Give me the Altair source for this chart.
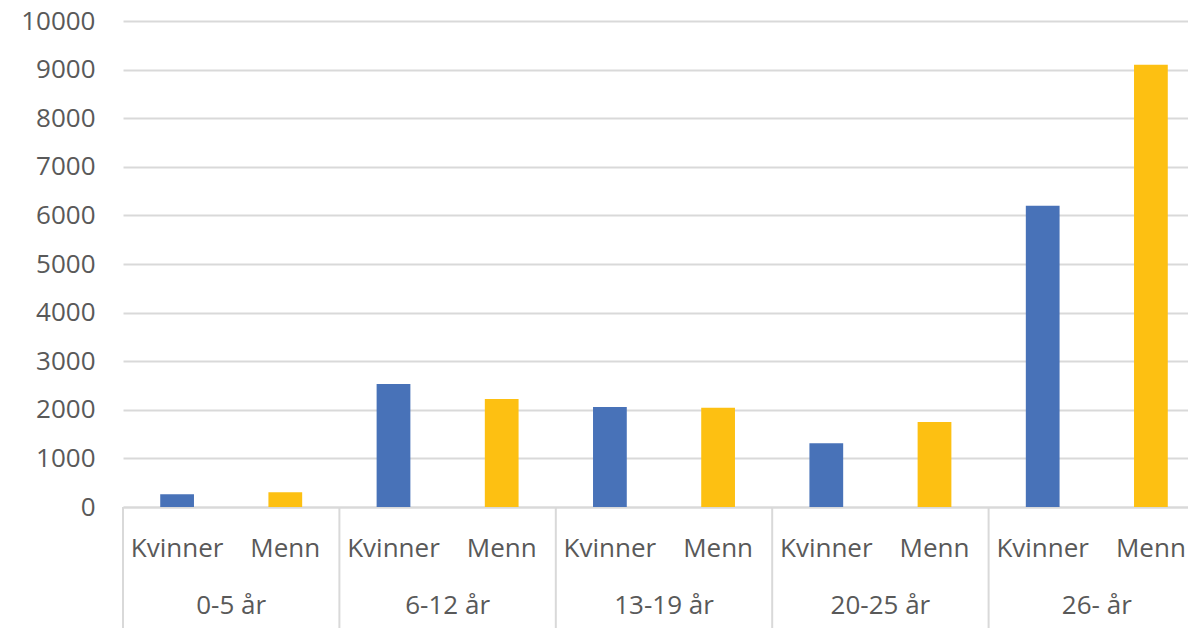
import altair as alt
import pandas as pd

groups = ["0-5 år", "6-12 år", "13-19 år", "20-25 år", "26- år"]
sexes = ["Kvinner", "Menn"]
kvinner = [260, 2530, 2060, 1310, 6200]
menn = [305, 2220, 2040, 1750, 9100]
y_ticks = list(range(0, 10001, 1000))

rows = []
for g, k, m in zip(groups, kvinner, menn):
    rows.append({"group": g, "sex": "Kvinner", "key": f"{g}|Kvinner", "value": k})
    rows.append({"group": g, "sex": "Menn", "key": f"{g}|Menn", "value": m})
df = pd.DataFrame(rows)
keys = list(df["key"])
gdf = pd.DataFrame({"group": groups})

W, H = 1082, 486
FONT = "Open Sans"
TXT = "#595959"
GRID = "#d9d9d9"

bars = alt.Chart(df).mark_bar().encode(
    x=alt.X("key:N", sort=keys,
            scale=alt.Scale(domain=keys, paddingInner=0.688, paddingOuter=0.344),
            axis=alt.Axis(title=None, labelExpr="split(datum.value, '|')[1]",
                          ticks=False, grid=False, domainColor=GRID, domainWidth=2,
                          labelAngle=0, labelBaseline="middle", labelPadding=41,
                          labelFont=FONT, labelFontSize=26, labelColor=TXT)),
    y=alt.Y("value:Q", scale=alt.Scale(domain=[0, 10000], nice=False),
            axis=alt.Axis(title=None, values=y_ticks, format="d", ticks=False, domain=False,
                          gridColor=GRID, gridWidth=2, labelPadding=28,
                          labelFont=FONT, labelFontSize=26, labelColor=TXT)),
    color=alt.Color("sex:N", scale=alt.Scale(domain=sexes, range=["#4872B8", "#FDC012"]),
                    legend=None),
)

gscale = alt.Scale(domain=groups, paddingInner=0, paddingOuter=0)

seps = alt.Chart(gdf).mark_rule(color=GRID, strokeWidth=2).encode(
    x=alt.X("group:N", sort=groups, scale=gscale, bandPosition=0, axis=None),
    y=alt.value(H),
    y2=alt.value(H + 125),
)

glabels = alt.Chart(gdf).mark_text(font=FONT, fontSize=26, color=TXT, baseline="middle").encode(
    x=alt.X("group:N", sort=groups, scale=gscale, axis=None),
    y=alt.value(H + 99),
    text="group:N",
)

chart = alt.layer(bars, seps, glabels).resolve_scale(x="independent").properties(
    width=W, height=H,
    padding={"left": 115, "top": 13, "right": -17, "bottom": 121},
    autosize=alt.AutoSizeParams(type="none"),
    background="white",
).configure_view(stroke=None)

chart.save("out.html", embed_options={"renderer": "svg", "actions": False})
